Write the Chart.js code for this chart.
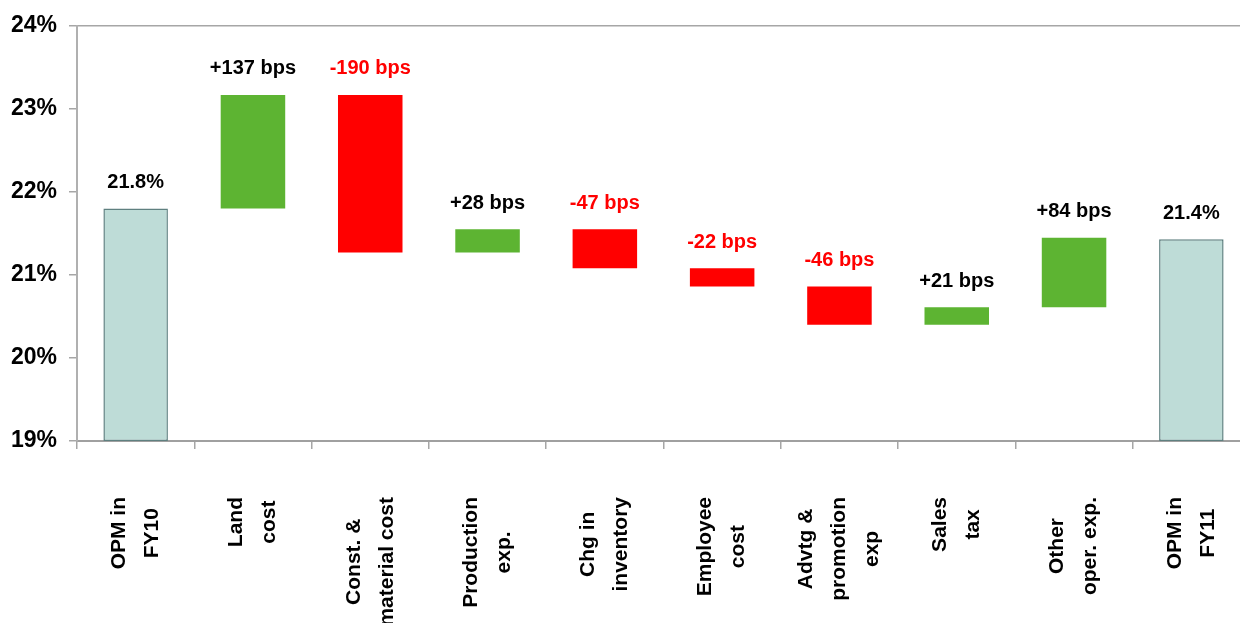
<!DOCTYPE html>
<html><head><meta charset="utf-8">
<script src="https://cdn.jsdelivr.net/npm/chart.js@4.4.0/dist/chart.umd.min.js"></script>
<style>html,body{margin:0;padding:0;overflow:hidden;background:#fff}#wrap{width:1252px;height:623px;position:relative}</style>
</head><body><div id="wrap"><canvas id="c"></canvas></div>
<script>
// ---- data ----
const categories = [
  ["OPM in","FY10"],["Land","cost"],["Const. &","material cost"],["Production","exp."],
  ["Chg in","inventory"],["Employee","cost"],["Advtg &","promotion","exp"],["Sales","tax"],
  ["Other","oper. exp."],["OPM in","FY11"]
];
const startOPM = 21.8;          // % , FY10
const changesBps = [137, -190, 28, -47, -22, -46, 21, 84];
const endOPM = 21.43;           // % , FY11 (label 21.4%)
const endLabel = "21.4%";
const yTicks = [19, 20, 21, 22, 23, 24];

// ---- build floating ranges ----
const ranges = [[19, startOPM]];
const kinds = ["total"];
const texts = [startOPM.toFixed(1) + "%"];
let level = startOPM;
changesBps.forEach(b => {
  const next = level + b / 100;
  ranges.push([Math.min(level, next), Math.max(level, next)]);
  kinds.push(b >= 0 ? "up" : "down");
  texts.push((b >= 0 ? "+" : "") + b + " bps");
  level = next;
});
ranges.push([19, endOPM]);
kinds.push("total");
texts.push(endLabel);

const fillFor = {total: "#bedcd7", up: "#5db432", down: "#ff0000"};
const textFor = {total: "#000000", up: "#000000", down: "#ff0000"};
const FONT = '"Liberation Sans", Arial, sans-serif';

const valueLabels = {
  id: "valueLabels",
  afterDatasetsDraw(chart) {
    const ctx = chart.ctx;
    const meta = chart.getDatasetMeta(0);
    ctx.save();
    ctx.font = "bold 20px " + FONT;
    ctx.textAlign = "center";
    ctx.textBaseline = "middle";
    meta.data.forEach((el, i) => {
      const top = Math.min(el.y, el.base);
      ctx.fillStyle = textFor[kinds[i]];
      ctx.fillText(texts[i], el.x, top - 26);
    });
    ctx.restore();
  }
};

const catLabels = {
  id: "catLabels",
  afterDraw(chart) {
    const ctx = chart.ctx;
    const xs = chart.scales.x;
    ctx.save();
    ctx.font = "bold 21px " + FONT;
    ctx.fillStyle = "#000";
    ctx.textAlign = "center";
    ctx.textBaseline = "middle";
    const lh = 33;
    categories.forEach((lines, i) => {
      const px = xs.getPixelForValue(i);
      const maxW = Math.max(...lines.map(l => ctx.measureText(l).width));
      const cy = xs.top + 56 + maxW / 2;
      ctx.save();
      ctx.translate(px, cy);
      ctx.rotate(-Math.PI / 2);
      lines.forEach((l, j) => {
        ctx.fillText(l, 0, (j - (lines.length - 1) / 2) * lh);
      });
      ctx.restore();
    });
    ctx.restore();
  }
};

new Chart(document.getElementById("c"), {
  type: "bar",
  data: {
    labels: categories.map(c => c.join(" ")),
    datasets: [{
      data: ranges,
      backgroundColor: kinds.map(k => fillFor[k]),
      borderColor: kinds.map(k => k === "total" ? "#5f8080" : "rgba(0,0,0,0)"),
      borderWidth: kinds.map(k => k === "total" ? 1.5 : 0),
      borderSkipped: false,
      barPercentage: 0.55,
      categoryPercentage: 1.0
    }]
  },
  options: {
    responsive: true,
    maintainAspectRatio: false,
    animation: false,
    devicePixelRatio: 1,
    layout: {padding: {top: 26, right: 2, left: 0, bottom: 0}},
    plugins: {legend: {display: false}, tooltip: {enabled: false}},
    scales: {
      x: {
        grid: {offset: true, drawOnChartArea: false, tickLength: 8, color: "#a6a6a6", lineWidth: 1.5},
        border: {display: true, color: "#a0a0a0", width: 2},
        ticks: {display: false},
        afterFit(s) { s.height = 182; }
      },
      y: {
        min: yTicks[0], max: yTicks[yTicks.length - 1],
        afterBuildTicks(s) { s.ticks = yTicks.map(v => ({value: v})); },
        grid: {
          drawOnChartArea: true,
          color: c => (c.tick && c.tick.value === yTicks[yTicks.length - 1]) ? "#a6a6a6" : "rgba(0,0,0,0)",
          tickColor: "#a6a6a6",
          tickLength: 8,
          lineWidth: 1.5
        },
        border: {display: true, color: "#b0b0b0", width: 2},
        ticks: {
          padding: 12,
          color: "#000",
          font: {family: FONT, size: 23, weight: "bold"},
          callback: v => v + "%"
        },
        afterFit(s) { s.width = 77; }
      }
    }
  },
  plugins: [valueLabels, catLabels]
});
</script>
</body></html>
